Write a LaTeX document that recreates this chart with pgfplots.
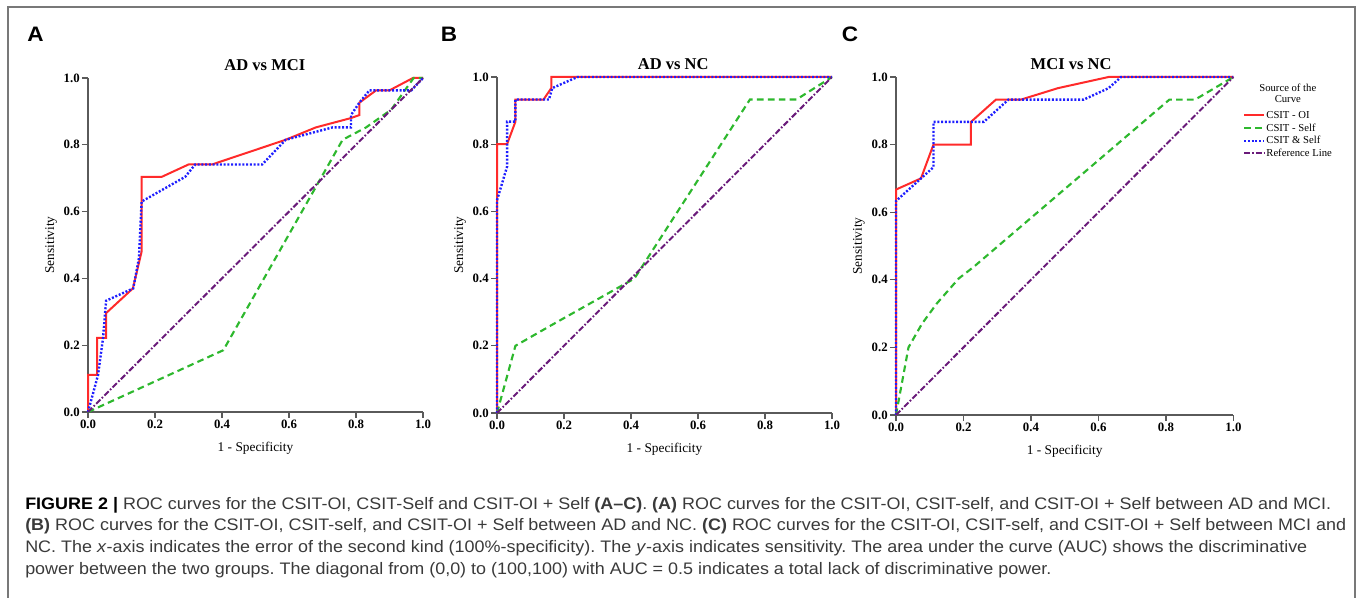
\documentclass[border=0pt]{standalone}
\usepackage{fontspec}
\setmainfont{Liberation Serif}
\newfontfamily\capfont[FakeStretch=1.077]{Liberation Sans}
\usepackage{xcolor}
\usepackage{pgfplots}
\pgfplotsset{compat=1.18}
\definecolor{axgray}{HTML}{5A5A5A}
\definecolor{framegray}{HTML}{787878}
\definecolor{capgray}{HTML}{3A3A3A}
\definecolor{rocred}{HTML}{FF2A2A}
\definecolor{rocgreen}{HTML}{2EB82E}
\definecolor{rocblue}{HTML}{1E1EFF}
\definecolor{rocpurple}{HTML}{6A1B7A}
\pgfplotsset{
  rocax/.style={
    scale only axis, anchor=south west, clip=false,
    xmin=0, xmax=1, ymin=0, ymax=1,
    axis lines*=left,
    axis line style={-, draw=axgray, line width=1.1pt},
    tick style={draw=axgray, line width=0.9pt},
    tick align=outside, major tick length=4.5pt,
    xtick={0,0.2,0.4,0.6,0.8,1}, ytick={0,0.2,0.4,0.6,0.8,1},
    /pgf/number format/.cd, fixed, fixed zerofill, precision=1, assume math mode=true, /pgfplots/.cd,
    ticklabel style={font=\fontsize{9.6}{10}\selectfont\bfseries, inner sep=1.5pt},
    xlabel={1 - Specificity}, ylabel={Sensitivity},
    label style={font=\fontsize{10.2}{12}\selectfont\bfseries},
    every axis x label/.style={at={(axis description cs:0.5,-0.108)}, anchor=center},
    every axis y label/.style={at={(axis description cs:-0.110,0.5)}, rotate=90, anchor=center},
  },
  oi/.style={draw=rocred, line width=1.5pt, no marks},
  self/.style={draw=rocgreen, line width=1.6pt, dash pattern=on 5pt off 3.2pt, no marks},
  both/.style={draw=rocblue, line width=1.8pt, dash pattern=on 1.5pt off 1.3pt, no marks},
  refl/.style={draw=rocpurple, line width=1.5pt, dash pattern=on 4.5pt off 1.5pt on 1.2pt off 1.5pt, no marks},
}
\newcommand{\ttl}[1]{\fontsize{12.4}{14}\selectfont\bfseries #1}
\begin{document}
\frenchspacing
\begin{tikzpicture}
\path[use as bounding box] (0,0) rectangle (1020pt,448.5pt);
\draw[framegray, line width=1.5pt] (6pt,0) -- (6pt,443.25pt) -- (1016.25pt,443.25pt) -- (1016.25pt,0);
\node[font=\capfont\fontsize{15.7}{16}\selectfont\bfseries] at (26.6pt,423pt) {A};
\node[font=\capfont\fontsize{15.7}{16}\selectfont\bfseries] at (336.75pt,423pt) {B};
\node[font=\capfont\fontsize{15.7}{16}\selectfont\bfseries] at (637.5pt,423pt) {C};

% A: AD vs MCI
\begin{axis}[rocax, at={(66pt,139.5pt)}, width=251.25pt, height=250.5pt]
\addplot[oi] coordinates {(0,0) (0,0.111) (0.027,0.111) (0.027,0.222) (0.054,0.222) (0.054,0.296) (0.134,0.370) (0.160,0.480) (0.160,0.704) (0.220,0.704) (0.300,0.741) (0.370,0.741) (0.590,0.815) (0.680,0.852) (0.785,0.880) (0.810,0.889) (0.810,0.926) (0.860,0.963) (0.900,0.963) (0.970,1) (1,1)};
\addplot[self] coordinates {(0,0) (0.404,0.185) (0.760,0.815) (0.830,0.852) (0.905,0.905) (0.972,1) (1,1)};
\addplot[both] coordinates {(0,0) (0.030,0.111) (0.045,0.222) (0.054,0.333) (0.135,0.370) (0.152,0.460) (0.160,0.630) (0.225,0.667) (0.290,0.704) (0.320,0.741) (0.520,0.741) (0.590,0.815) (0.730,0.852) (0.785,0.852) (0.785,0.889) (0.810,0.926) (0.840,0.963) (0.930,0.963) (0.965,0.963) (1,1)};
\addplot[refl] coordinates {(0,0) (1,1)};
\node[font=\ttl{}] at (rel axis cs:0.528,1.039) {AD vs MCI};
\end{axis}

% B: AD vs NC
\begin{axis}[rocax, at={(372.75pt,138.75pt)}, width=251.25pt, height=252pt]
\addplot[oi] coordinates {(0,0) (0,0.8) (0.030,0.8) (0.055,0.867) (0.055,0.933) (0.139,0.933) (0.162,0.967) (0.162,1) (1,1)};
\addplot[self] coordinates {(0,0) (0.055,0.2) (0.160,0.260) (0.410,0.400) (0.755,0.933) (0.894,0.933) (1,1)};
\addplot[both] coordinates {(0,0) (0,0.633) (0.030,0.733) (0.030,0.867) (0.055,0.867) (0.055,0.933) (0.155,0.933) (0.165,0.967) (0.240,1) (1,1)};
\addplot[refl] coordinates {(0,0) (1,1)};
\node[font=\ttl{}] at (rel axis cs:0.526,1.039) {AD vs NC};
\end{axis}

% C: MCI vs NC
\begin{axis}[rocax, at={(672pt,137.25pt)}, width=253.1pt, height=253.5pt,
  legend style={draw=none, fill=none, inner sep=0pt, outer sep=0pt,
    at={(1.028,0.905)}, anchor=north west,
    font=\fontsize{8}{9.5}\selectfont,
    nodes={inner sep=0.8pt, text height=6.2pt, text depth=1.7pt}},
  legend cell align=left,
  legend image code/.code={\draw[#1] (0pt,0pt) -- (15pt,0pt);},
]
\addplot[oi] coordinates {(0,0) (0,0.667) (0.074,0.700) (0.111,0.800) (0.222,0.800) (0.222,0.867) (0.296,0.933) (0.370,0.933) (0.480,0.967) (0.630,1) (1,1)};
\addlegendentry{CSIT - OI}
\addplot[self] coordinates {(0,0) (0.037,0.200) (0.077,0.270) (0.121,0.330) (0.186,0.404) (0.230,0.438) (0.810,0.933) (0.886,0.933) (1,1)};
\addlegendentry{CSIT - Self}
\addplot[both] coordinates {(0,0) (0,0.633) (0.074,0.700) (0.111,0.733) (0.111,0.867) (0.260,0.867) (0.333,0.933) (0.556,0.933) (0.630,0.967) (0.667,1) (1,1)};
\addlegendentry{CSIT \& Self}
\addplot[refl] coordinates {(0,0) (1,1)};
\addlegendentry{Reference Line}
\node[font=\ttl{}] at (rel axis cs:0.519,1.039) {MCI vs NC};
\node[font=\fontsize{8}{9.5}\selectfont, align=center] at (rel axis cs:1.161,0.951) {Source of the\\[-1.5pt]Curve};
\end{axis}

% caption
\begin{scope}[every node/.style={anchor=base west, inner sep=0pt, text=capgray, font=\capfont\fontsize{12.5}{15}\selectfont}]
\node at (18.75pt,66.5pt) {\textbf{\color{black}FIGURE 2 |} ROC curves for the CSIT-OI, CSIT-Self and CSIT-OI + Self \textbf{(A–C)}. \textbf{(A)} ROC curves for the CSIT-OI, CSIT-self, and CSIT-OI + Self between AD and MCI.};
\node at (18.75pt,50.25pt) {\textbf{(B)} ROC curves for the CSIT-OI, CSIT-self, and CSIT-OI + Self between AD and NC. \textbf{(C)} ROC curves for the CSIT-OI, CSIT-self, and CSIT-OI + Self between MCI and};
\node at (18.75pt,34pt) {NC. The \textit{x}-axis indicates the error of the second kind (100\%-specificity). The \textit{y}-axis indicates sensitivity. The area under the curve (AUC) shows the discriminative};
\node at (18.75pt,17.7pt) {power between the two groups. The diagonal from (0,0) to (100,100) with AUC = 0.5 indicates a total lack of discriminative power.};
\end{scope}
\end{tikzpicture}
\end{document}
